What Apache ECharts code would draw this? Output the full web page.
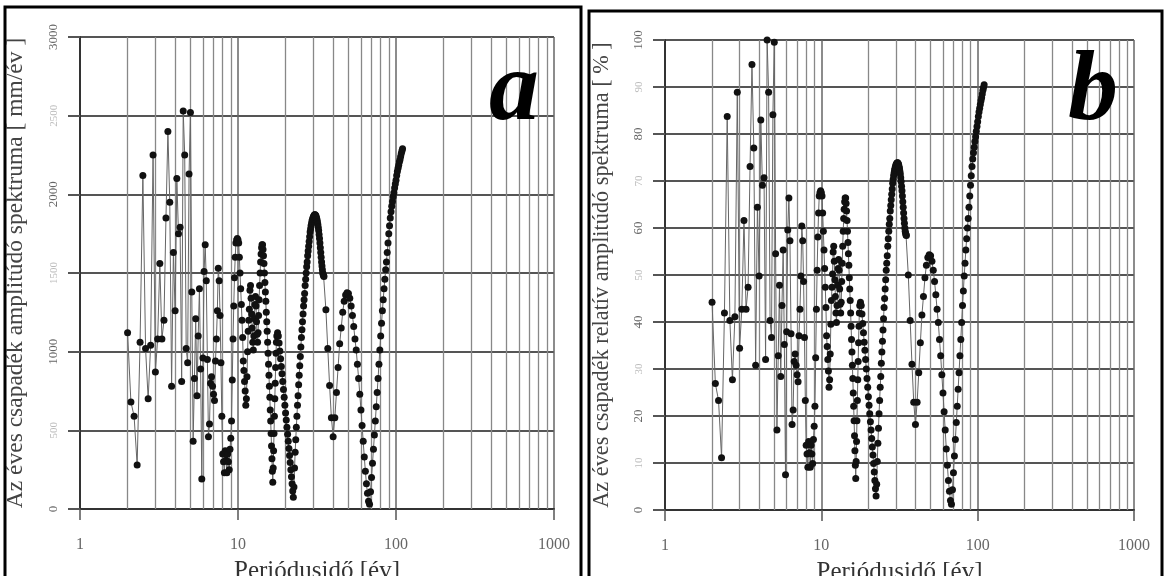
<!DOCTYPE html>
<html>
<head>
<meta charset="utf-8">
<script src="https://cdn.jsdelivr.net/npm/echarts@6.0.0/dist/echarts.min.js"></script>
<style>
  html, body { margin: 0; padding: 0; background: #fff; }
  #chart { width: 1164px; height: 576px; }
</style>
</head>
<body>
<div id="chart"></div>
<script>
// periódusidő [év]
const periods = [
  2.0, 2.1, 2.2, 2.3, 2.4, 2.5, 2.6, 2.7, 2.8, 2.9,
  3.0, 3.1, 3.2, 3.3, 3.4, 3.5, 3.6, 3.7, 3.8, 3.9,
  4.0, 4.1, 4.2, 4.3, 4.4, 4.5, 4.6, 4.7, 4.8, 4.9,
  5.0, 5.1, 5.2, 5.3, 5.4, 5.5, 5.6, 5.7, 5.8, 5.9,
  6.0, 6.1, 6.2, 6.3, 6.4, 6.5, 6.6, 6.7, 6.8, 6.9,
  7.0, 7.1, 7.2, 7.3, 7.4, 7.5, 7.6, 7.7, 7.8, 7.9,
  8.0, 8.1, 8.2, 8.3, 8.4, 8.5, 8.6, 8.7, 8.8, 8.9,
  9.0, 9.1, 9.2, 9.3, 9.4, 9.5, 9.6, 9.7, 9.8, 9.9,
  10.0, 10.1, 10.2, 10.3, 10.4, 10.5, 10.6, 10.7, 10.8, 10.9,
  11.0, 11.1, 11.2, 11.3, 11.4, 11.5, 11.6, 11.7, 11.8, 11.9,
  12.0, 12.1, 12.2, 12.3, 12.4, 12.5, 12.6, 12.7, 12.8, 12.9,
  13.0, 13.1, 13.2, 13.3, 13.4, 13.5, 13.6, 13.7, 13.8, 13.9,
  14.0, 14.1, 14.2, 14.3, 14.4, 14.5, 14.6, 14.7, 14.8, 14.9,
  15.0, 15.1, 15.2, 15.3, 15.4, 15.5, 15.6, 15.7, 15.8, 15.9,
  16.0, 16.1, 16.2, 16.3, 16.4, 16.5, 16.6, 16.7, 16.8, 16.9,
  17.0, 17.1, 17.2, 17.3, 17.4, 17.5, 17.6,
  17.8, 18.0, 18.2, 18.4, 18.6, 18.8, 19.0, 19.2, 19.4, 19.6, 19.8,
  20.0, 20.2, 20.4, 20.6, 20.8, 21.0, 21.2, 21.4, 21.6, 21.8,
  22.0, 22.2, 22.4, 22.6, 22.8, 23.0, 23.2, 23.4, 23.6, 23.8,
  24.0, 24.2, 24.4, 24.6, 24.8, 25.0, 25.2, 25.4, 25.6, 25.8,
  26.0, 26.2, 26.4, 26.6, 26.8, 27.0, 27.2, 27.4, 27.6, 27.8,
  28.0, 28.2, 28.4, 28.6, 28.8, 29.0, 29.2, 29.4, 29.6, 29.8,
  30.0, 30.2, 30.4, 30.6, 30.8, 31.0, 31.2, 31.4, 31.6, 31.8,
  32.0, 32.2, 32.4, 32.6, 32.8, 33.0, 33.2, 33.4, 33.6, 33.8,
  34.0, 34.2, 34.4, 34.6, 34.8, 35.0,
  36, 37, 38, 39, 40, 41, 42, 43, 44, 45, 46, 47, 48, 49,
  50, 51, 52, 53, 54, 55, 56, 57, 58, 59,
  60, 61, 62, 63, 64, 65, 66, 67, 68, 69,
  70, 71, 72, 73, 74, 75, 76, 77, 78, 79,
  80, 81, 82, 83, 84, 85, 86, 87, 88, 89,
  90, 91, 92, 93, 94, 95, 96, 97, 98, 99,
  100, 101, 102, 103, 104, 105, 106, 107, 108, 109, 110
];

// a) amplitúdó [mm/év]
const amplitudeMm = [
  1120, 680, 590, 280, 1060, 2120, 1020, 700, 1040, 2250,
  870, 1080, 1560, 1080, 1200, 1850, 2400, 1950, 780, 1630,
  1260, 2100, 1750, 1790, 810, 2530, 2250, 1020, 930, 2130,
  2520, 1380, 430, 830, 1210, 720, 1100, 1400, 890, 190,
  960, 1510, 1680, 1450, 950, 460, 540, 800, 840, 780,
  730, 690, 940, 1080, 1260, 1530, 1450, 1230, 930, 590,
  350, 300, 230, 370, 310, 230, 350, 300, 250, 380,
  450, 560, 820, 1080, 1290, 1470, 1600, 1690, 1710, 1720,
  1710, 1690, 1600, 1500, 1400, 1300, 1200, 1090, 940, 880,
  810, 750, 660, 700, 840, 1000, 1130, 1200, 1270, 1390,
  1420, 1340, 1240, 1150, 1060, 1010, 1100, 1210, 1300, 1350,
  1290, 1190, 1110, 1060, 1120, 1230, 1330, 1420, 1500, 1570,
  1620, 1660, 1680, 1680, 1650, 1610, 1560, 1500, 1440, 1380,
  1320, 1250, 1190, 1130, 1060, 990, 920, 850, 780, 710,
  630, 560, 480, 400, 320, 240, 170, 260, 370, 480,
  590, 700, 800, 900, 990, 1060, 1100,
  1120, 1100, 1055, 1005, 955, 905, 860, 810, 760, 710, 660,
  610, 565, 520, 475, 430, 385, 340, 295, 250, 205,
  160, 115, 75, 140, 260, 360, 440, 520, 590, 660,
  720, 790, 850, 910, 970, 1030, 1090, 1140, 1190, 1240,
  1290, 1330, 1370, 1420, 1460, 1500, 1540, 1570, 1610, 1640,
  1670, 1700, 1730, 1760, 1780, 1800, 1815, 1830, 1840, 1850,
  1858, 1863, 1868, 1870, 1870, 1866, 1860, 1850, 1840, 1825,
  1810, 1790, 1770, 1745, 1720, 1690, 1660, 1630, 1600, 1570,
  1545, 1520, 1500, 1490, 1482, 1478,
  1266, 1020, 785, 580, 460, 580, 740, 900, 1050, 1150, 1250, 1320, 1360, 1375,
  1370, 1340, 1290, 1230, 1160, 1080, 1010, 920, 830, 730,
  630, 530, 430, 330, 240, 160, 100, 50, 30, 110,
  200, 290, 380, 470, 560, 650, 740, 830, 920, 1010,
  1100, 1180, 1260, 1330, 1400, 1460, 1520, 1570, 1630, 1690,
  1750, 1800, 1850, 1890, 1925, 1955, 1985, 2010, 2040, 2065,
  2090, 2120, 2145, 2165, 2185, 2205, 2220, 2240, 2260, 2275, 2290
];

// b) relatív amplitúdó [%]
const amplitudePct = [
  44.2, 26.9, 23.3, 11.1, 41.9, 83.7, 40.3, 27.7, 41.1, 88.9,
  34.4, 42.7, 61.6, 42.7, 47.4, 73.1, 94.8, 77.0, 30.8, 64.4,
  49.8, 83.0, 69.1, 70.7, 32.0, 100, 88.9, 40.3, 36.7, 84.1,
  99.5, 54.5, 17.0, 32.8, 47.8, 28.4, 43.5, 55.3, 35.2, 7.5,
  37.9, 59.6, 66.4, 57.3, 37.5, 18.2, 21.3, 31.6, 33.2, 30.8,
  28.8, 27.3, 37.1, 42.7, 49.8, 60.4, 57.3, 48.6, 36.7, 23.3,
  13.8, 11.9, 9.1, 14.6, 12.2, 9.1, 13.8, 11.9, 9.9, 15.0,
  17.8, 22.1, 32.4, 42.7, 51.0, 58.1, 63.2, 66.8, 67.5, 67.9,
  67.5, 66.8, 63.2, 59.3, 55.3, 51.4, 47.4, 43.1, 37.1, 34.8,
  32.0, 29.6, 26.1, 27.7, 33.2, 39.5, 44.6, 47.4, 50.2, 54.9,
  56.1, 52.9, 49.0, 45.4, 41.9, 39.9, 43.5, 47.8, 51.4, 53.3,
  51.0, 47.0, 43.8, 41.9, 44.2, 48.6, 52.5, 56.1, 59.3, 62.0,
  64.0, 65.6, 66.4, 66.4, 65.2, 63.6, 61.6, 59.3, 56.9, 54.5,
  52.1, 49.4, 47.0, 44.6, 41.9, 39.1, 36.3, 33.6, 30.8, 28.0,
  24.9, 22.1, 19.0, 15.8, 12.6, 9.5, 6.7, 10.3, 14.6, 19.0,
  23.3, 27.7, 31.6, 35.6, 39.1, 41.9, 43.5,
  44.2, 43.5, 41.7, 39.7, 37.7, 35.7, 34.0, 32.0, 30.0, 28.0, 26.1,
  24.1, 22.3, 20.5, 18.8, 17.0, 15.2, 13.4, 11.7, 9.9, 8.1,
  6.3, 4.5, 3.0, 5.5, 10.3, 14.2, 17.4, 20.5, 23.3, 26.1,
  28.4, 31.2, 33.6, 35.9, 38.3, 40.7, 43.1, 45.0, 47.0, 49.0,
  51.0, 52.5, 54.1, 56.1, 57.7, 59.3, 60.8, 62.0, 63.6, 64.8,
  66.0, 67.2, 68.3, 69.5, 70.3, 71.1, 71.7, 72.3, 72.7, 73.1,
  73.4, 73.6, 73.8, 73.9, 73.9, 73.7, 73.5, 73.1, 72.7, 72.1,
  71.5, 70.7, 69.9, 68.9, 67.9, 66.8, 65.6, 64.4, 63.2, 62.0,
  61.0, 60.0, 59.3, 58.9, 58.5, 58.4,
  50.0, 40.3, 31.0, 22.9, 18.2, 22.9, 29.2, 35.6, 41.5, 45.4, 49.4, 52.1, 53.7, 54.3,
  54.1, 52.9, 51.0, 48.6, 45.8, 42.7, 39.9, 36.3, 32.8, 28.8,
  24.9, 20.9, 17.0, 13.0, 9.5, 6.3, 4.0, 2.0, 1.2, 4.3,
  7.9, 11.5, 15.0, 18.6, 22.1, 25.7, 29.2, 32.8, 36.3, 39.9,
  43.5, 46.6, 49.8, 52.5, 55.3, 57.7, 60.0, 62.0, 64.4, 66.8,
  69.1, 71.1, 73.1, 74.7, 76.0, 77.2, 78.4, 79.4, 80.6, 81.6,
  82.6, 83.7, 84.7, 85.5, 86.3, 87.1, 87.7, 88.5, 89.3, 89.9, 90.5
];

// logaritmikus rács köztes vonalai
const minorGridPeriods = [2, 3, 4, 5, 6, 7, 8, 9, 20, 30, 40, 50, 60, 70, 80, 90,
  200, 300, 400, 500, 600, 700, 800, 900];
const faintMm = [500, 1500, 2500];
const faintPct = [10, 30, 50, 70, 90];

const serif = '"Liberation Serif", "DejaVu Serif", serif';

const chart = echarts.init(document.getElementById('chart'));

function xAxisFor(gridIndex) {
  return {
    gridIndex: gridIndex,
    type: 'log',
    logBase: 10,
    min: 1,
    max: 1000,
    name: 'Periódusidő [év]',
    nameLocation: 'middle',
    nameGap: 50,
    nameTextStyle: { fontFamily: serif, fontSize: 25, color: '#333' },
    axisLine: { show: true, onZero: false, lineStyle: { color: '#333', width: 2 } },
    axisTick: { show: true, length: 11, lineStyle: { color: '#555', width: 1.5 } },
    axisLabel: {
      margin: 28, fontFamily: serif, fontSize: 16, color: '#666',
      formatter: function (v) { return String(Math.round(v)); }
    },
    splitLine: { show: true, lineStyle: { color: '#666', width: 1.5 } }
  };
}

function yAxisFor(gridIndex, max, interval, name, faint, nameSize) {
  return {
    gridIndex: gridIndex,
    type: 'value',
    min: 0,
    max: max,
    interval: interval,
    name: name,
    nameLocation: 'middle',
    nameRotate: 90,
    nameGap: 52,
    nameTextStyle: { fontFamily: serif, fontSize: nameSize, color: '#444' },
    axisLine: { show: true, lineStyle: { color: '#333', width: 2 } },
    axisTick: { show: true, length: 12, lineStyle: { color: '#555', width: 2 } },
    axisLabel: {
      rotate: 90, margin: 20, fontFamily: serif, fontSize: 13, color: '#666',
      formatter: function (v) {
        return faint.indexOf(v) >= 0 ? '{f|' + v + '}' : String(v);
      },
      rich: { f: { color: '#bbb', fontFamily: serif, fontSize: 11 } }
    },
    splitLine: { show: true, lineStyle: { color: '#555', width: 2 } }
  };
}

function spectrumSeries(index, values) {
  return {
    type: 'line',
    xAxisIndex: index,
    yAxisIndex: index,
    data: periods.map(function (t, i) { return [t, values[i]]; }),
    symbol: 'circle',
    symbolSize: 7,
    showSymbol: true,
    z: 5,
    itemStyle: { color: '#111' },
    lineStyle: { color: '#666', width: 1 },
    emphasis: { disabled: true },
    markLine: {
      silent: true,
      symbol: 'none',
      z: 1,
      label: { show: false },
      lineStyle: { color: '#888', width: 1.3, type: 'solid' },
      data: minorGridPeriods.map(function (p) { return { xAxis: p }; })
    }
  };
}

const option = {
  animation: false,
  backgroundColor: '#fff',
  grid: [
    { left: 80, top: 37, width: 474, height: 472, outerBoundsMode: 'none', containLabel: false },
    { left: 665, top: 40, width: 469, height: 470, outerBoundsMode: 'none', containLabel: false }
  ],
  xAxis: [xAxisFor(0), xAxisFor(1)],
  yAxis: [
    yAxisFor(0, 3000, 500, 'Az éves csapadék amplitúdó spektruma [ mm/év ]', faintMm, 23.5),
    yAxisFor(1, 100, 10, 'Az éves csapadék relatív amplitúdó spektruma [ % ]', faintPct, 22.3)
  ],
  series: [
    spectrumSeries(0, amplitudeMm),
    spectrumSeries(1, amplitudePct)
  ],
  graphic: [
    { type: 'rect', shape: { x: 5, y: 7, width: 576, height: 600 },
      style: { fill: 'none', stroke: '#000', lineWidth: 3 }, silent: true },
    { type: 'rect', shape: { x: 589, y: 11, width: 573, height: 600 },
      style: { fill: 'none', stroke: '#000', lineWidth: 3 }, silent: true },
    { type: 'text', x: 514, y: 93, z: 10,
      style: { text: 'a', font: 'italic bold 100px "Liberation Serif"', fill: '#000',
               textAlign: 'center', textVerticalAlign: 'middle' } },
    { type: 'text', x: 1093, y: 93, z: 10,
      style: { text: 'b', font: 'italic bold 100px "Liberation Serif"', fill: '#000',
               textAlign: 'center', textVerticalAlign: 'middle' } }
  ]
};

chart.setOption(option);
</script>
</body>
</html>
